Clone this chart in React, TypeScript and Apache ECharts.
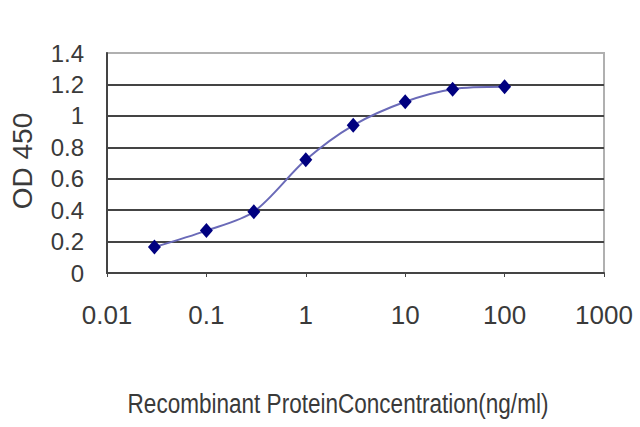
import React, { useEffect, useRef } from "react";
import * as echarts from "echarts";

const concentrations = [0.03, 0.1, 0.3, 1, 3, 10, 30, 100];
const odValues = [0.165, 0.27, 0.39, 0.72, 0.94, 1.09, 1.17, 1.185];
const yAxisName = "OD 450";
const xAxisName = "Recombinant ProteinConcentration(ng/ml)";

const SANS = "'Liberation Sans', Arial, sans-serif";

export default function App() {
  const ref = useRef<HTMLDivElement>(null);
  useEffect(() => {
    if (!ref.current) return;
    const chart = echarts.init(ref.current, undefined, { renderer: "svg" });
    const gridColors = ["#444", "#444", "#444", "#444", "#444", "#444", "#444", "#b0b0b0"];
    chart.setOption({
      animation: false,
      backgroundColor: "#fff",
      grid: {
        left: 107,
        right: 36,
        top: 53,
        bottom: 154,
        show: true,
        borderColor: "#b0b0b0",
        borderWidth: 2,
      },
      xAxis: {
        type: "log",
        logBase: 10,
        min: 0.01,
        max: 1000,
        axisLine: { show: true, lineStyle: { color: "#444", width: 2 } },
        axisTick: { show: true, length: 4, lineStyle: { color: "#444" } },
        splitLine: { show: false },
        minorTick: { show: false },
        axisLabel: {
          margin: 29,
          fontSize: 26,
          fontFamily: SANS,
          color: "#3a3a3a",
          formatter: (v: number) => {
            const r = Math.round(Math.log10(v));
            return String(Number(Math.pow(10, r).toPrecision(6)));
          },
        },
      },
      yAxis: {
        type: "value",
        min: 0,
        max: 1.4,
        interval: 0.2,
        axisLine: { show: true, lineStyle: { color: "#444", width: 2 } },
        axisTick: { show: false },
        splitLine: { show: true, lineStyle: { color: gridColors, width: 2 } },
        axisLabel: {
          margin: 23,
          fontSize: 24,
          fontFamily: SANS,
          color: "#3a3a3a",
          formatter: (v: number) => String(Number(v.toFixed(1))),
        },
      },
      graphic: [
        {
          type: "text",
          x: 22,
          y: 161,
          rotation: Math.PI / 2,
          style: {
            text: yAxisName,
            fontSize: 28,
            fontFamily: SANS,
            fill: "#3a3a3a",
            align: "center",
            verticalAlign: "middle",
          },
        },
        {
          type: "text",
          x: 338,
          y: 403,
          scaleX: 0.835,
          style: {
            text: xAxisName,
            fontSize: 27,
            fontFamily: SANS,
            fill: "#3a3a3a",
            align: "center",
            verticalAlign: "middle",
          },
        },
      ],
      series: [
        {
          type: "line",
          data: concentrations.map((c, i) => [c, odValues[i]]),
          smooth: 0.3,
          symbol: "diamond",
          symbolSize: [13, 15],
          itemStyle: { color: "#000080" },
          lineStyle: { color: "#6a6ab8", width: 2 },
        },
      ],
    });
    return () => chart.dispose();
  }, []);
  return (
    <div
      ref={ref}
      style={{ position: "absolute", left: 0, top: 0, width: 640, height: 427 }}
    />
  );
}
